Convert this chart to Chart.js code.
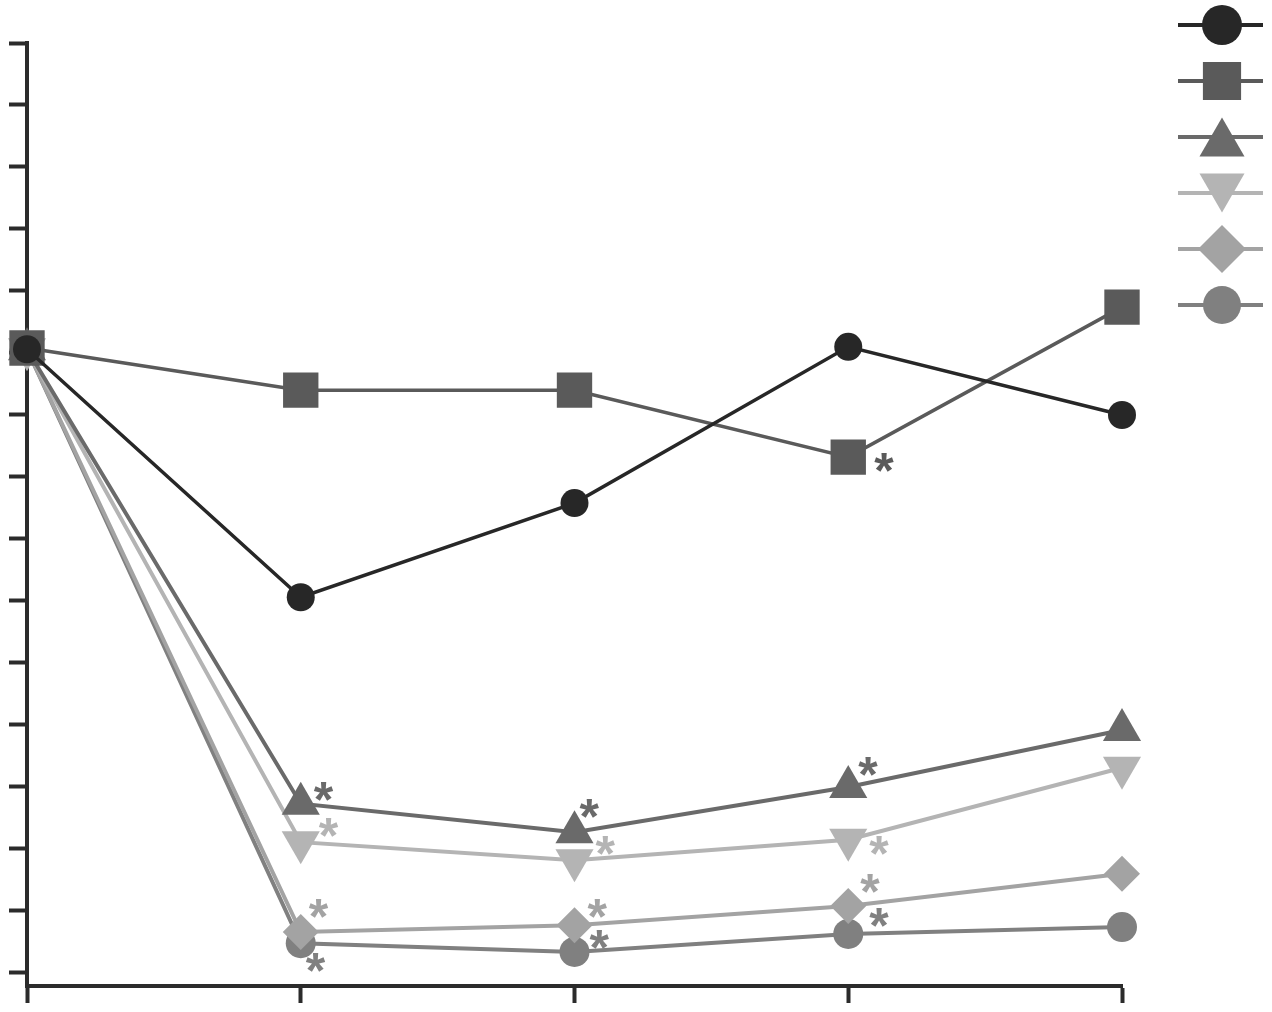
<!DOCTYPE html>
<html>
<head>
<meta charset="utf-8">
<script src="https://cdn.jsdelivr.net/npm/chart.js@4.4.1/dist/chart.umd.min.js"></script>
<style>
  html, body { margin: 0; padding: 0; background: #fff; }
  #wrap { width: 1272px; height: 1012px; }
</style>
</head>
<body>
<div id="wrap"><canvas id="myChart"></canvas></div>
<script>
// time points (no labels shown on the axis)
const xPoints = [0, 1, 2, 3, 4];
// y tick marks (unlabelled)
const yTickValues = [0, 10, 20, 30, 40, 50, 60, 70, 80, 90, 100, 110, 120, 130, 140, 150];

// values (% of start)
const circleDark = [100.6, 60.6, 75.8, 101.0, 90.0];
const square     = [100.8, 94.0, 94.0, 83.2, 107.4];
const triUp      = [100.6, 27.3, 22.7, 30.0, 39.2];
const triDown    = [100.6, 21.1, 18.2, 21.5, 33.1];
const diamond    = [100.6, 6.6, 7.7, 10.8, 16.0];
const circleGray = [100.6, 4.8, 3.4, 6.3, 7.4];

// significance flags (asterisks) per point
const sigCircleDark = [0, 0, 0, 0, 0];
const sigSquare     = [0, 0, 0, 1, 0];
const sigTriUp      = [0, 1, 1, 1, 0];
const sigTriDown    = [0, 1, 1, 1, 0];
const sigDiamond    = [0, 1, 1, 1, 0];
const sigCircleGray = [0, 1, 1, 1, 0];

// styling
const seriesStyle = [
  { data: circleDark, sig: sigCircleDark, color: '#272727', style: 'circle',   radius: 14, rot: 0,   lw: 3.5, legR: 20 },
  { data: square,     sig: sigSquare,     color: '#5a5a5a', style: 'rect',     radius: 25, rot: 0,   lw: 3.5, legR: 27 },
  { data: triUp,      sig: sigTriUp,      color: '#6a6a6a', style: 'triangle', radius: 22, rot: 0,   lw: 4,   legR: 26 },
  { data: triDown,    sig: sigTriDown,    color: '#b4b4b4', style: 'triangle', radius: 22, rot: 180, lw: 4,   legR: 26 },
  { data: diamond,    sig: sigDiamond,    color: '#a3a3a3', style: 'rectRot',  radius: 18, rot: 0,   lw: 4,   legR: 24 },
  { data: circleGray, sig: sigCircleGray, color: '#808080', style: 'circle',   radius: 15, rot: 0,   lw: 4,   legR: 19 }
];
// asterisk offsets from the point centre (px), per series per point
const starOffsets = [
  [],
  [null, null, null, [36, 5], null],
  [null, [23, -12], [15, -24], [20, -20], null],
  [null, [28, -15], [31, -15], [31, 6], null],
  [null, [18, -24], [23, -17], [22, -23], null],
  [null, [15, 19], [25, -12], [31, -16], null]
];

const axisColor = '#2b2b2b';

const asteriskPlugin = {
  id: 'asterisks',
  afterDatasetsDraw(chart) {
    const ctx = chart.ctx;
    const xs = chart.scales.x, ys = chart.scales.y;
    ctx.save();
    ctx.font = 'bold 50px "Liberation Sans"';
    ctx.textAlign = 'left';
    ctx.textBaseline = 'alphabetic';
    const m = ctx.measureText('*');
    const dx = (m.actualBoundingBoxRight - m.actualBoundingBoxLeft) / 2;
    const dy = (m.actualBoundingBoxAscent - m.actualBoundingBoxDescent) / 2;
    seriesStyle.forEach((s, i) => {
      s.sig.forEach((flag, j) => {
        if (!flag) return;
        const off = starOffsets[i][j] || [20, -15];
        const px = xs.getPixelForValue(xPoints[j]) + off[0];
        const py = ys.getPixelForValue(s.data[j]) + off[1];
        ctx.fillStyle = s.color;
        ctx.fillText('*', px - dx, py + dy);
      });
    });
    ctx.restore();
  }
};

const legendPlugin = {
  id: 'markerLegend',
  afterDraw(chart) {
    const ctx = chart.ctx;
    const x0 = 1178, x1 = 1263, xm = 1222;
    ctx.save();
    seriesStyle.forEach((s, i) => {
      const y = 25 + 56 * i;
      ctx.strokeStyle = s.color;
      ctx.lineWidth = 4;
      ctx.beginPath();
      ctx.moveTo(x0, y);
      ctx.lineTo(x1, y);
      ctx.stroke();
      ctx.fillStyle = s.color;
      let yy = y;
      if (s.style === 'triangle') yy = y + (s.rot ? -1 : 1) * s.legR * 0.25;
      Chart.helpers.drawPoint(ctx, {
        pointStyle: s.style, rotation: s.rot, radius: s.legR, borderWidth: 0
      }, xm, yy);
    });
    ctx.restore();
  }
};

function createChart() {
  const ctx = document.getElementById('myChart');
  new Chart(ctx, {
    type: 'line',
    data: {
      datasets: seriesStyle.map(s => ({
        data: s.data.map((v, j) => ({ x: xPoints[j], y: v })),
        borderColor: s.color,
        backgroundColor: s.color,
        borderWidth: s.lw,
        pointStyle: s.style,
        pointRotation: s.rot,
        pointRadius: s.radius,
        pointBorderWidth: 0,
        pointBackgroundColor: s.color,
        tension: 0,
        fill: false,
        clip: false
      }))
    },
    options: {
      responsive: true,
      maintainAspectRatio: false,
      animation: false,
      layout: { padding: { left: 9, right: 150, top: 43, bottom: 9 } },
      scales: {
        x: {
          type: 'linear',
          min: 0,
          max: 4,
          afterBuildTicks: (scale) => { scale.ticks = xPoints.map(v => ({ value: v })); },
          ticks: { display: false },
          grid: { drawOnChartArea: false, drawTicks: true, tickLength: 17, tickWidth: 4, tickColor: axisColor },
          border: { display: true, width: 4, color: axisColor }
        },
        y: {
          min: -2.1,
          max: 150,
          afterBuildTicks: (scale) => { scale.ticks = yTickValues.map(v => ({ value: v })); },
          ticks: { display: false },
          grid: { drawOnChartArea: false, drawTicks: true, tickLength: 18, tickWidth: 4, tickColor: axisColor },
          border: { display: true, width: 4, color: axisColor }
        }
      },
      plugins: {
        legend: { display: false },
        tooltip: { enabled: false }
      }
    },
    plugins: [asteriskPlugin, legendPlugin]
  });
}

createChart();
</script>
</body>
</html>
